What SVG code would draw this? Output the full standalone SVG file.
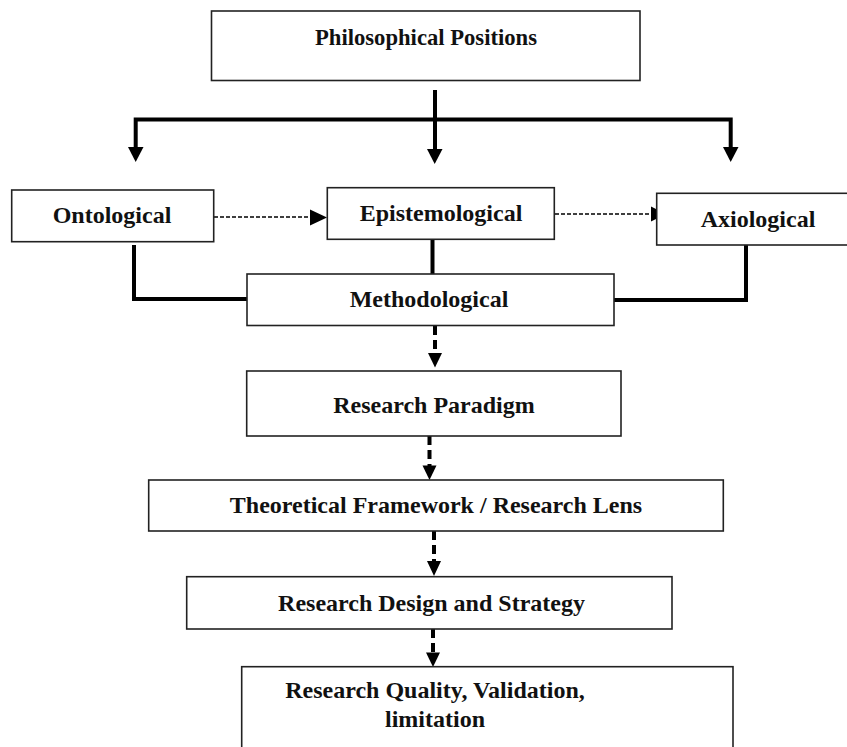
<svg xmlns="http://www.w3.org/2000/svg" width="847" height="747" viewBox="0 0 847 747">
  <style>
    .box { fill: #ffffff; stroke: #222222; stroke-width: 1.6; }
    .lbl { font-family: "Liberation Serif", "Times New Roman", serif; font-weight: bold; font-size: 24px; fill: #111111; text-anchor: middle; }
    .solid { fill: none; stroke: #000000; stroke-width: 4; stroke-linejoin: miter; stroke-linecap: butt; }
    .thin { fill: none; stroke: #000000; stroke-width: 1.4; stroke-dasharray: 4 2; }
    .dash { fill: none; stroke: #000000; stroke-width: 4; stroke-dasharray: 9 5; }
    .head { fill: #000000; stroke: none; }
  </style>
  <rect width="847" height="747" fill="#ffffff"/>

  <!-- connectors -->
  <g id="connectors">
    <!-- fan-out from the top box -->
    <path class="solid" d="M435 90 V150"/>
    <path class="solid" d="M135.7 149 V119.5 H730.7 V148"/>
    <polygon class="head" points="128,147 143.5,147 135.7,162"/>
    <polygon class="head" points="427,149 442.5,149 434.7,164"/>
    <polygon class="head" points="723,147 738.5,147 730.7,162"/>

    <!-- dotted links along the middle row -->
    <path class="thin" d="M214 217 H312"/>
    <polygon class="head" points="310,209.5 327,217.5 310,225.5"/>
    <path class="thin" d="M555 214 H653"/>
    <polygon class="head" points="651,206.5 666,214 651,221.5"/>

    <!-- joins into Methodological -->
    <path class="solid" d="M134 245 V299 H247"/>
    <path class="solid" d="M432.5 239 V274"/>
    <path class="solid" d="M746 245 V300 H614"/>

    <!-- dashed chain down the page -->
    <path class="dash" d="M435 326 V353"/>
    <polygon class="head" points="428,353 442,353 435,367.5"/>
    <path class="dash" d="M429.5 436 V466"/>
    <polygon class="head" points="422.5,465.5 436.5,465.5 429.5,480"/>
    <path class="dash" d="M434 531 V561"/>
    <polygon class="head" points="427,561 441,561 434,576"/>
    <path class="dash" d="M433 629 V653"/>
    <polygon class="head" points="426,652.5 440,652.5 433,667"/>
  </g>

  <g id="philosophical-positions">
    <rect class="box" x="211.5" y="11" width="428.5" height="69.5"/>
    <text class="lbl" x="426" y="45" textLength="222" lengthAdjust="spacingAndGlyphs">Philosophical Positions</text>
  </g>

  <g id="ontological">
    <rect class="box" x="11.7" y="190" width="202" height="51.7"/>
    <text class="lbl" x="112" y="223.3">Ontological</text>
  </g>

  <g id="epistemological">
    <rect class="box" x="327.3" y="187.7" width="227" height="51.6"/>
    <text class="lbl" x="441" y="221">Epistemological</text>
  </g>

  <g id="axiological">
    <rect class="box" x="656.7" y="193.3" width="192" height="51.7"/>
    <text class="lbl" x="758" y="226.7">Axiological</text>
  </g>

  <g id="methodological">
    <rect class="box" x="247" y="274" width="367" height="51.5"/>
    <text class="lbl" x="429" y="306.5">Methodological</text>
  </g>

  <g id="research-paradigm">
    <rect class="box" x="246.7" y="371" width="374.3" height="65"/>
    <text class="lbl" x="434" y="413">Research Paradigm</text>
  </g>

  <g id="theoretical-framework">
    <rect class="box" x="148.7" y="480" width="574.6" height="51"/>
    <text class="lbl" x="436" y="512.7">Theoretical Framework / Research Lens</text>
  </g>

  <g id="research-design">
    <rect class="box" x="186.7" y="576.7" width="485.3" height="52.3"/>
    <text class="lbl" x="431.5" y="610.7">Research Design and Strategy</text>
  </g>

  <g id="research-quality">
    <rect class="box" x="241.7" y="666.7" width="491.3" height="95"/>
    <text class="lbl" x="435" y="698">Research Quality, Validation,</text>
    <text class="lbl" x="435" y="727">limitation</text>
  </g>
</svg>
